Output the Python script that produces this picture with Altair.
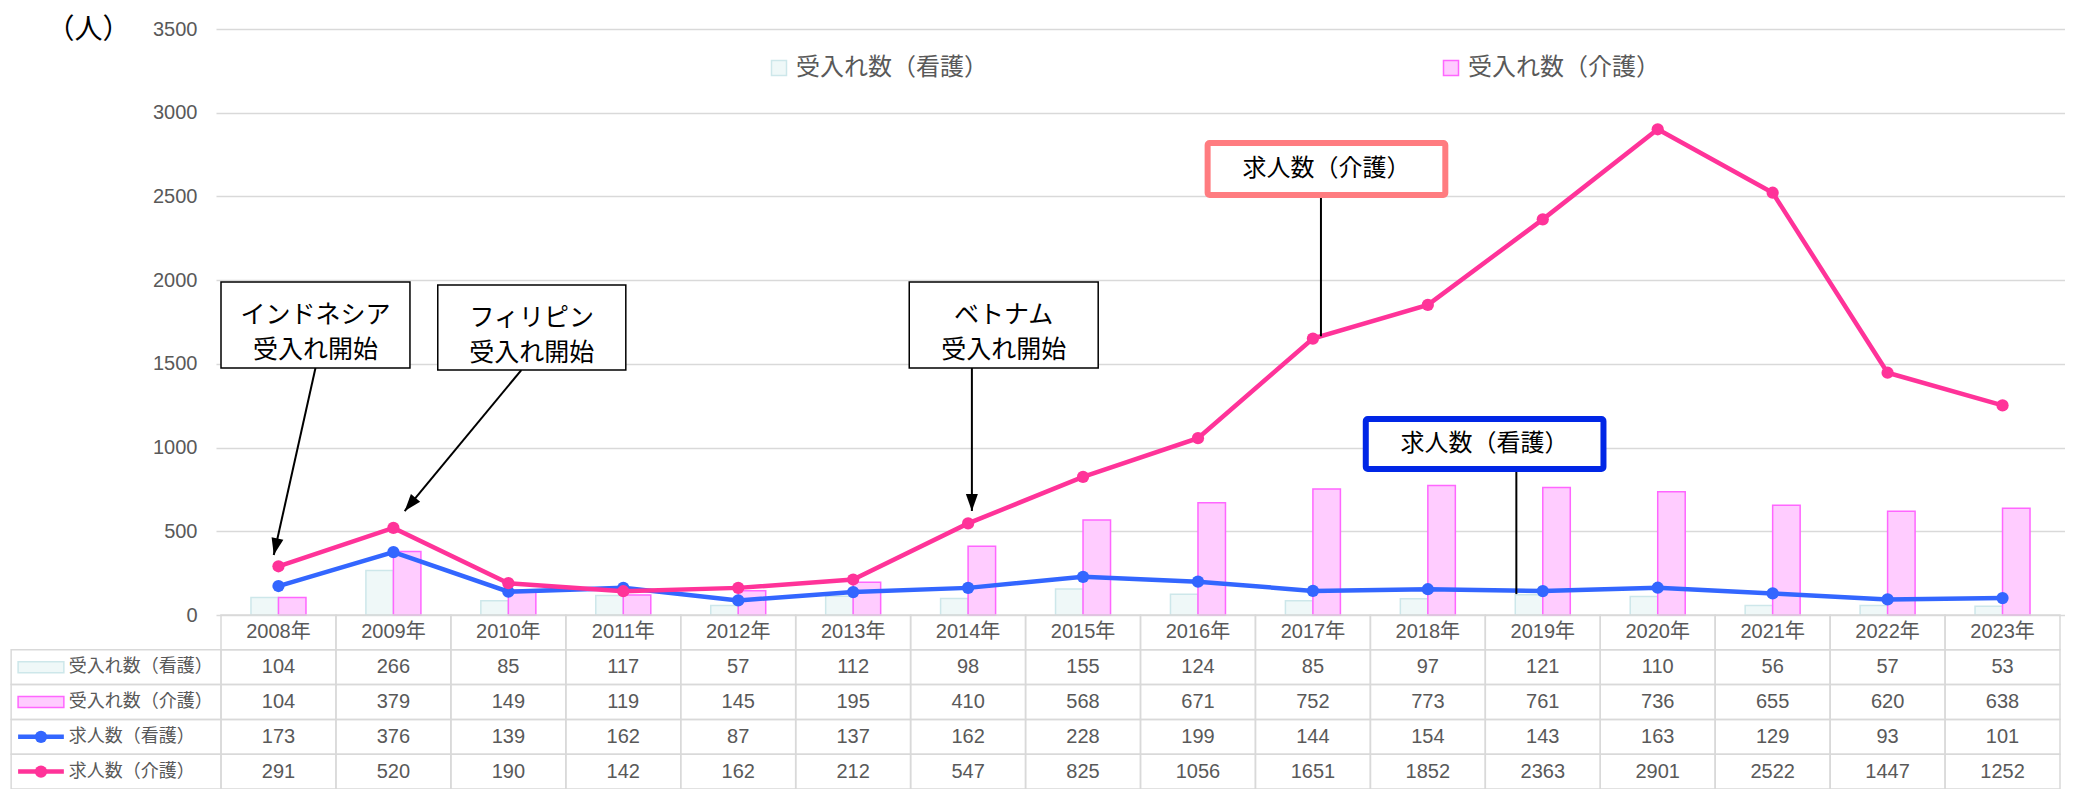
import math
import altair as alt
import pandas as pd

# ---------------- data ----------------
years = [2008, 2009, 2010, 2011, 2012, 2013, 2014, 2015, 2016, 2017, 2018, 2019, 2020, 2021, 2022, 2023]
ukeire_kango = [104, 266, 85, 117, 57, 112, 98, 155, 124, 85, 97, 121, 110, 56, 57, 53]
ukeire_kaigo = [104, 379, 149, 119, 145, 195, 410, 568, 671, 752, 773, 761, 736, 655, 620, 638]
kyujin_kango = [173, 376, 139, 162, 87, 137, 162, 228, 199, 144, 154, 143, 163, 129, 93, 101]
kyujin_kaigo = [291, 520, 190, 142, 162, 212, 547, 825, 1056, 1651, 1852, 2363, 2901, 2522, 1447, 1252]
series_names = ["受入れ数（看護）", "受入れ数（介護）", "求人数（看護）", "求人数（介護）"]
y_ticks = [0, 500, 1000, 1500, 2000, 2500, 3000, 3500]
unit_label = "（人）"
year_labels = [f"{y}年" for y in years]

# annotation texts
ann_texts = ["インドネシア\n受入れ開始", "フィリピン\n受入れ開始", "ベトナム\n受入れ開始",
             "求人数（介護）", "求人数（看護）"]

# ---------------- layout / style ----------------
W, H = 1849, 586
N = len(years)
YMAX = 3500
KX = W / N
KY = H / YMAX
FONT = "Liberation Sans, Noto Sans CJK JP, sans-serif"
JFONT = "Noto Sans CJK JP, sans-serif"
GREY = "#595959"
GRID = "#D9D9D9"
C_BLUE = "#3366FF"
C_PINK = "#FF3399"
BAR_FILL = ["#EFF8F8", "#FFCCFF"]
BAR_STROKE = ["#CDE7EA", "#FF66FF"]

XS = alt.Scale(domain=[0, N], nice=False, zero=False)
YS = alt.Scale(domain=[0, YMAX], nice=False, zero=True)
TS = alt.Scale(domain=[0, 5], range=[H, H + 174], nice=False, zero=False)

yaxis = alt.Axis(values=y_ticks, format="d", grid=True, gridColor=GRID, gridWidth=1.5,
                 domain=False, ticks=False, labelPadding=19, labelFontSize=20,
                 labelColor=GREY, labelFont=FONT, title=unit_label, titleAngle=0,
                 titleX=-128, titleY=1, titleAlign="center", titleBaseline="middle",
                 titleFontSize=28, titleFontWeight="normal", titleColor="#000000",
                 titleFont=JFONT)

long = pd.DataFrame([
    {"series": s, "i": i, "value": v}
    for s, vals in zip(series_names, [ukeire_kango, ukeire_kaigo, kyujin_kango, kyujin_kaigo])
    for i, v in enumerate(vals)
])

X = alt.X("xc:Q", scale=XS, axis=None)
Y = alt.Y("value:Q", scale=YS, axis=yaxis)

legend = alt.Legend(orient="none", legendX=551, legendY=27, direction="horizontal", title=None,
                    symbolType="square", symbolSize=225, symbolStrokeWidth=1.5,
                    labelFontSize=24, labelColor=GREY, labelFont=JFONT, labelLimit=400,
                    columnPadding=451, labelOffset=5, padding=0)
fill_scale = alt.Scale(domain=series_names[:2], range=BAR_FILL)
stroke_scale = alt.Scale(domain=series_names[:2], range=BAR_STROKE)

base = alt.Chart(long).transform_calculate(xc="datum.i + 0.5")

top_layers = []
for name, off in [(series_names[0], -13.75), (series_names[1], 13.75)]:
    top_layers.append(
        base.transform_filter(alt.datum.series == name)
        .mark_bar(width=27.5, xOffset=off, strokeWidth=1.5)
        .encode(x=X, y=Y,
                fill=alt.Fill("series:N", scale=fill_scale, legend=legend),
                stroke=alt.Stroke("series:N", scale=stroke_scale, legend=legend))
    )
for name, col in [(series_names[2], C_BLUE), (series_names[3], C_PINK)]:
    b = base.transform_filter(alt.datum.series == name)
    top_layers.append(b.mark_line(color=col, strokeWidth=4.5).encode(x=X, y=Y))
    top_layers.append(b.mark_point(color=col, filled=True, size=150, opacity=1).encode(x=X, y=Y))

# annotation geometry (index units on x, data units on y)
boxes = pd.DataFrame({
    "label": ann_texts,
    "x0": [0.000, 1.886, 5.988, 8.584, 9.960],
    "x1": [1.644, 3.522, 7.632, 10.652, 12.028],
    "y0": [1475, 1463, 1475, 2508, 872],
    "y1": [1989, 1971, 1989, 2819, 1171],
})
boxes["xm"] = (boxes.x0 + boxes.x1) / 2
boxes["ym"] = (boxes.y0 + boxes.y1) / 2

arrows = pd.DataFrame({
    "ax": [0.822, 2.613, 6.533, 9.57, 11.27],
    "ay": [1475, 1463, 1475, 2600, 1000],
    "bx": [0.459, 1.598, 6.533, 9.57, 11.27],
    "by": [358, 621, 621, 1665, 125],
    "head": [1, 1, 1, 0, 0],
})
arrows["ang"] = [math.degrees(math.atan2(-(r.bx - r.ax) * KX, (r.ay - r.by) * KY)) for r in arrows.itertuples()]

top_layers.append(
    alt.Chart(arrows).mark_rule(color="#000000", strokeWidth=2).encode(
        x=alt.X("ax:Q", scale=XS, axis=None), x2="bx:Q",
        y=alt.Y("ay:Q", scale=YS, axis=yaxis), y2="by:Q")
)
ARROW = "M0,0L-0.6,-1.7L0.6,-1.7Z"
top_layers.append(
    alt.Chart(arrows).transform_filter(alt.datum.head == 1)
    .mark_point(shape=ARROW, filled=True, size=400, color="#000000", opacity=1)
    .encode(x=alt.X("bx:Q", scale=XS, axis=None), y=alt.Y("by:Q", scale=YS, axis=yaxis),
            angle=alt.Angle("ang:Q", scale=None))
)

box_styles = [([0, 1, 2], "#000000", 1.5, 25, -10), ([3], "#FF7C80", 6, 24, 0), ([4], "#0026E6", 6, 24, 0)]
for idx, col, sw, fs, dy in box_styles:
    sub = boxes.iloc[idx]
    top_layers.append(
        alt.Chart(sub).mark_rect(fill="#FFFFFF", stroke=col, strokeWidth=sw, cornerRadius=2 if sw > 2 else 0)
        .encode(x=alt.X("x0:Q", scale=XS, axis=None), x2="x1:Q",
                y=alt.Y("y0:Q", scale=YS, axis=yaxis), y2="y1:Q")
    )
    top_layers.append(
        alt.Chart(sub).mark_text(font=JFONT, fontSize=fs, color="#000000", lineBreak="\n",
                                 lineHeight=35, align="center", baseline="middle", dy=dy)
        .encode(x=alt.X("xm:Q", scale=XS, axis=None), y=alt.Y("ym:Q", scale=YS, axis=yaxis),
                text="label:N")
    )

top = alt.layer(*top_layers)

# ---------------- table ----------------
cells = [{"r": 0, "i": i, "txt": lab} for i, lab in enumerate(year_labels)]
for r, vals in enumerate([ukeire_kango, ukeire_kaigo, kyujin_kango, kyujin_kaigo], start=1):
    cells += [{"r": r, "i": i, "txt": str(v)} for i, v in enumerate(vals)]
cells = pd.DataFrame(cells)
rows = pd.DataFrame({"r": [1, 2, 3, 4], "name": series_names})

LBL_X0 = -211 / KX
SW_X0 = -204 / KX
SW_X1 = -158 / KX
SW_XC = -181 / KX
LBL_TX = -153 / KX

tb = alt.Chart(cells).transform_calculate(i1="datum.i + 1", r1="datum.r + 1",
                                          xc="datum.i + 0.5", yc="datum.r + 0.5")
table_layers = [
    tb.mark_rect(fill="#FFFFFF", fillOpacity=0, stroke=GRID, strokeWidth=1.5).encode(
        x=alt.X("i:Q", scale=XS, axis=None), x2="i1:Q",
        y=alt.Y("r:Q", scale=TS, axis=None), y2="r1:Q"),
    tb.mark_text(font=FONT, fontSize=20, color=GREY, align="center", baseline="middle").encode(
        x=alt.X("xc:Q", scale=XS, axis=None), y=alt.Y("yc:Q", scale=TS, axis=None), text="txt:N"),
]
rb = alt.Chart(rows).transform_calculate(r1="datum.r + 1", yc="datum.r + 0.5",
                                         ya="datum.r + 0.34", yb="datum.r + 0.66")
table_layers.append(
    rb.mark_rect(fill="#FFFFFF", fillOpacity=0, stroke=GRID, strokeWidth=1.5).encode(
        x=alt.XDatum(LBL_X0, scale=XS, axis=None), x2=alt.X2Datum(0.0),
        y=alt.Y("r:Q", scale=TS, axis=None), y2="r1:Q")
)
table_layers.append(
    rb.mark_text(font=JFONT, fontSize=18, color=GREY, align="left", baseline="middle").encode(
        x=alt.XDatum(LBL_TX, scale=XS, axis=None), y=alt.Y("yc:Q", scale=TS, axis=None), text="name:N")
)
for k in range(2):
    table_layers.append(
        rb.transform_filter(alt.datum.r == k + 1)
        .mark_rect(fill=BAR_FILL[k], stroke=BAR_STROKE[k], strokeWidth=1.5)
        .encode(x=alt.XDatum(SW_X0, scale=XS, axis=None), x2=alt.X2Datum(SW_X1),
                y=alt.Y("ya:Q", scale=TS, axis=None), y2="yb:Q")
    )
for k, col in [(3, C_BLUE), (4, C_PINK)]:
    sb = rb.transform_filter(alt.datum.r == k)
    table_layers.append(
        sb.mark_rule(color=col, strokeWidth=4.5).encode(
            x=alt.XDatum(SW_X0, scale=XS, axis=None), x2=alt.X2Datum(SW_X1),
            y=alt.Y("yc:Q", scale=TS, axis=None))
    )
    table_layers.append(
        sb.mark_point(color=col, filled=True, size=150, opacity=1).encode(
            x=alt.XDatum(SW_XC, scale=XS, axis=None), y=alt.Y("yc:Q", scale=TS, axis=None))
    )

table = alt.layer(*table_layers)

chart = (
    alt.layer(top, table)
    .resolve_scale(y="independent")
    .properties(width=W, height=H, padding={"left": 2, "top": 8, "right": 0, "bottom": 0})
    .configure_view(stroke=None)
)

chart.save("out.html", embed_options={"renderer": "svg", "actions": False})
